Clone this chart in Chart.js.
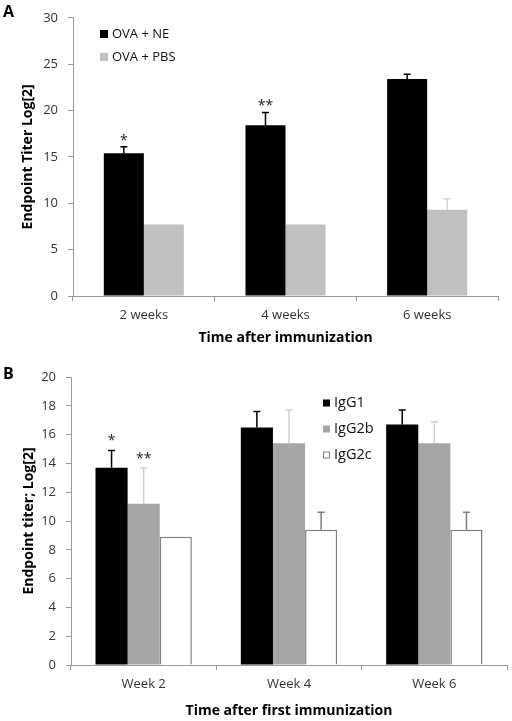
<!DOCTYPE html>
<html>
<head>
<meta charset="utf-8">
<script src="https://cdn.jsdelivr.net/npm/chart.js@4/dist/chart.umd.min.js"></script>
<style>
  body { margin: 0; background: #fff; width: 512px; height: 721px; overflow: hidden; position: relative; }
  .panel { position: absolute; left: 0; width: 512px; }
  .tag { position: absolute; left: 3px; font: bold 16px "Open Sans", sans-serif; color: #000; }
</style>
</head>
<body>
<div class="panel" style="top:0;height:348px"><canvas id="chartA"></canvas></div>
<div class="panel" style="top:348px;height:373px"><canvas id="chartB"></canvas></div>
<div class="tag" style="top:0px">A</div>
<div class="tag" style="top:362px">B</div>
<script>
// panel A data
const weeksA = ['2 weeks', '4 weeks', '6 weeks'];
const ovaNE = [15.4, 18.4, 23.4];
const ovaNEErr = [0.7, 1.4, 0.5];
const ovaPBS = [7.7, 7.7, 9.3];
const ovaPBSErr = [0, 0, 1.2];
const sigNE = ['*', '**', ''];

// panel B data
const weeksB = ['Week 2', 'Week 4', 'Week 6'];
const igg1 = [13.7, 16.5, 16.7];
const igg1Err = [1.2, 1.1, 1.0];
const igg2b = [11.2, 15.4, 15.4];
const igg2bErr = [2.5, 2.3, 1.5];
const igg2c = [8.9, 9.4, 9.4];
const igg2cErr = [0, 1.2, 1.2];
const sig1 = ['*', '', ''];
const sig2b = ['**', '', ''];

const FONT = '"Open Sans", sans-serif';

// error bars + asterisks
const errBars = {
    id: 'errBars',
    afterDatasetsDraw(chart, args, opts) {
        const ctx = chart.ctx;
        const y = chart.scales.y;
        chart.data.datasets.forEach((ds, i) => {
            const meta = chart.getDatasetMeta(i);
            const errs = opts.errors[i] || [];
            const marks = (opts.marks && opts.marks[i]) || [];
            meta.data.forEach((bar, j) => {
                const top = y.getPixelForValue(ds.data[j] + (errs[j] || 0));
                if (errs[j]) {
                    ctx.save();
                    ctx.strokeStyle = opts.colors[i];
                    ctx.lineWidth = 1.5;
                    ctx.beginPath();
                    ctx.moveTo(bar.x, bar.y);
                    ctx.lineTo(bar.x, top);
                    ctx.moveTo(bar.x - 3.5, top);
                    ctx.lineTo(bar.x + 3.5, top);
                    ctx.stroke();
                    ctx.restore();
                }
                if (marks[j]) {
                    ctx.save();
                    ctx.fillStyle = '#222';
                    ctx.font = '14px ' + FONT;
                    ctx.textAlign = 'center';
                    ctx.textBaseline = 'alphabetic';
                    ctx.fillText(marks[j], bar.x, top + opts.markGap);
                    ctx.restore();
                }
            });
        });
    }
};

// legend drawn inside the plot
const boxLegend = {
    id: 'boxLegend',
    afterDraw(chart, args, opts) {
        const ctx = chart.ctx;
        ctx.save();
        ctx.font = opts.size + 'px ' + FONT;
        ctx.textBaseline = 'middle';
        chart.data.datasets.forEach((ds, i) => {
            const cy = opts.y + i * opts.dy;
            ctx.fillStyle = ds.backgroundColor;
            ctx.fillRect(opts.x, cy - opts.box / 2, opts.box, opts.box);
            if (ds.borderWidth) {
                ctx.strokeStyle = ds.borderColor;
                ctx.lineWidth = 1;
                ctx.strokeRect(opts.x + 0.5, cy - opts.box / 2 + 0.5, opts.box - 1, opts.box - 1);
            }
            ctx.fillStyle = '#111';
            ctx.fillText(ds.label, opts.x + opts.box + 4, cy);
        });
        ctx.restore();
    }
};

function axes(o) {
    return {
        x: {
            grid: { offset: true, drawOnChartArea: false, tickLength: 5, color: '#999' },
            border: { color: '#999', width: 1 },
            ticks: { color: '#333', padding: 6, font: { family: FONT, size: 13 } },
            title: { display: true, text: o.xTitle, color: '#000', padding: { top: 4, bottom: 2 },
                     font: { family: FONT, size: 14, weight: 'bold' } },
            afterFit: s => { s.height = o.xHeight; }
        },
        y: {
            min: 0, max: o.max,
            grid: { drawOnChartArea: false, tickLength: 5, color: '#999' },
            border: { color: '#999', width: 1 },
            ticks: { stepSize: o.step, color: '#333', padding: 10, font: { family: FONT, size: 13 } },
            title: { display: true, text: o.yTitle, color: '#000', padding: { top: o.yTitlePad, bottom: 4 },
                     font: { family: FONT, size: 14, weight: 'bold' } },
            afterFit: s => { s.width = o.yWidth; }
        }
    };
}

new Chart(document.getElementById('chartA'), {
    type: 'bar',
    data: {
        labels: weeksA,
        datasets: [
            { label: 'OVA + NE', data: ovaNE, backgroundColor: '#000000', borderWidth: 0 },
            { label: 'OVA + PBS', data: ovaPBS, backgroundColor: '#c0c0c0', borderWidth: 0 }
        ]
    },
    options: {
        responsive: true,
        maintainAspectRatio: false,
        animation: false,
        categoryPercentage: 0.565,
        barPercentage: 1.0,
        layout: { padding: { top: 13, right: 14, left: 0, bottom: 0 } },
        scales: axes({ max: 30, step: 5, xTitle: 'Time after immunization', yTitle: 'Endpoint Titer Log[2]', xHeight: 52, yWidth: 73, yTitlePad: 20 }),
        plugins: {
            legend: { display: false },
            tooltip: { enabled: false },
            errBars: { errors: [ovaNEErr, ovaPBSErr], colors: ['#000', '#d0d0d0'], marks: [sigNE, []], markGap: -2 },
            boxLegend: { x: 100, y: 34, dy: 23, box: 8, size: 13 }
        }
    },
    plugins: [errBars, boxLegend]
});

new Chart(document.getElementById('chartB'), {
    type: 'bar',
    data: {
        labels: weeksB,
        datasets: [
            { label: 'IgG1', data: igg1, backgroundColor: '#000000', borderWidth: 0 },
            { label: 'IgG2b', data: igg2b, backgroundColor: '#a6a6a6', borderWidth: 0 },
            { label: 'IgG2c', data: igg2c, backgroundColor: '#ffffff', borderColor: '#7f7f7f', borderWidth: 1.5 }
        ]
    },
    options: {
        responsive: true,
        maintainAspectRatio: false,
        animation: false,
        categoryPercentage: 0.663,
        barPercentage: 1.0,
        layout: { padding: { top: 29, right: 5, left: 0, bottom: 0 } },
        scales: axes({ max: 20, step: 2, xTitle: 'Time after first immunization', yTitle: 'Endpoint titer; Log[2]', xHeight: 56, yWidth: 71, yTitlePad: 21 }),
        plugins: {
            legend: { display: false },
            tooltip: { enabled: false },
            errBars: { errors: [igg1Err, igg2bErr, igg2cErr], colors: ['#000', '#cfcfcf', '#7f7f7f'], marks: [sig1, sig2b, []], markGap: -5 },
            boxLegend: { x: 323, y: 55, dy: 26, box: 7, size: 14.5 }
        }
    },
    plugins: [errBars, boxLegend]
});
</script>
</body>
</html>
